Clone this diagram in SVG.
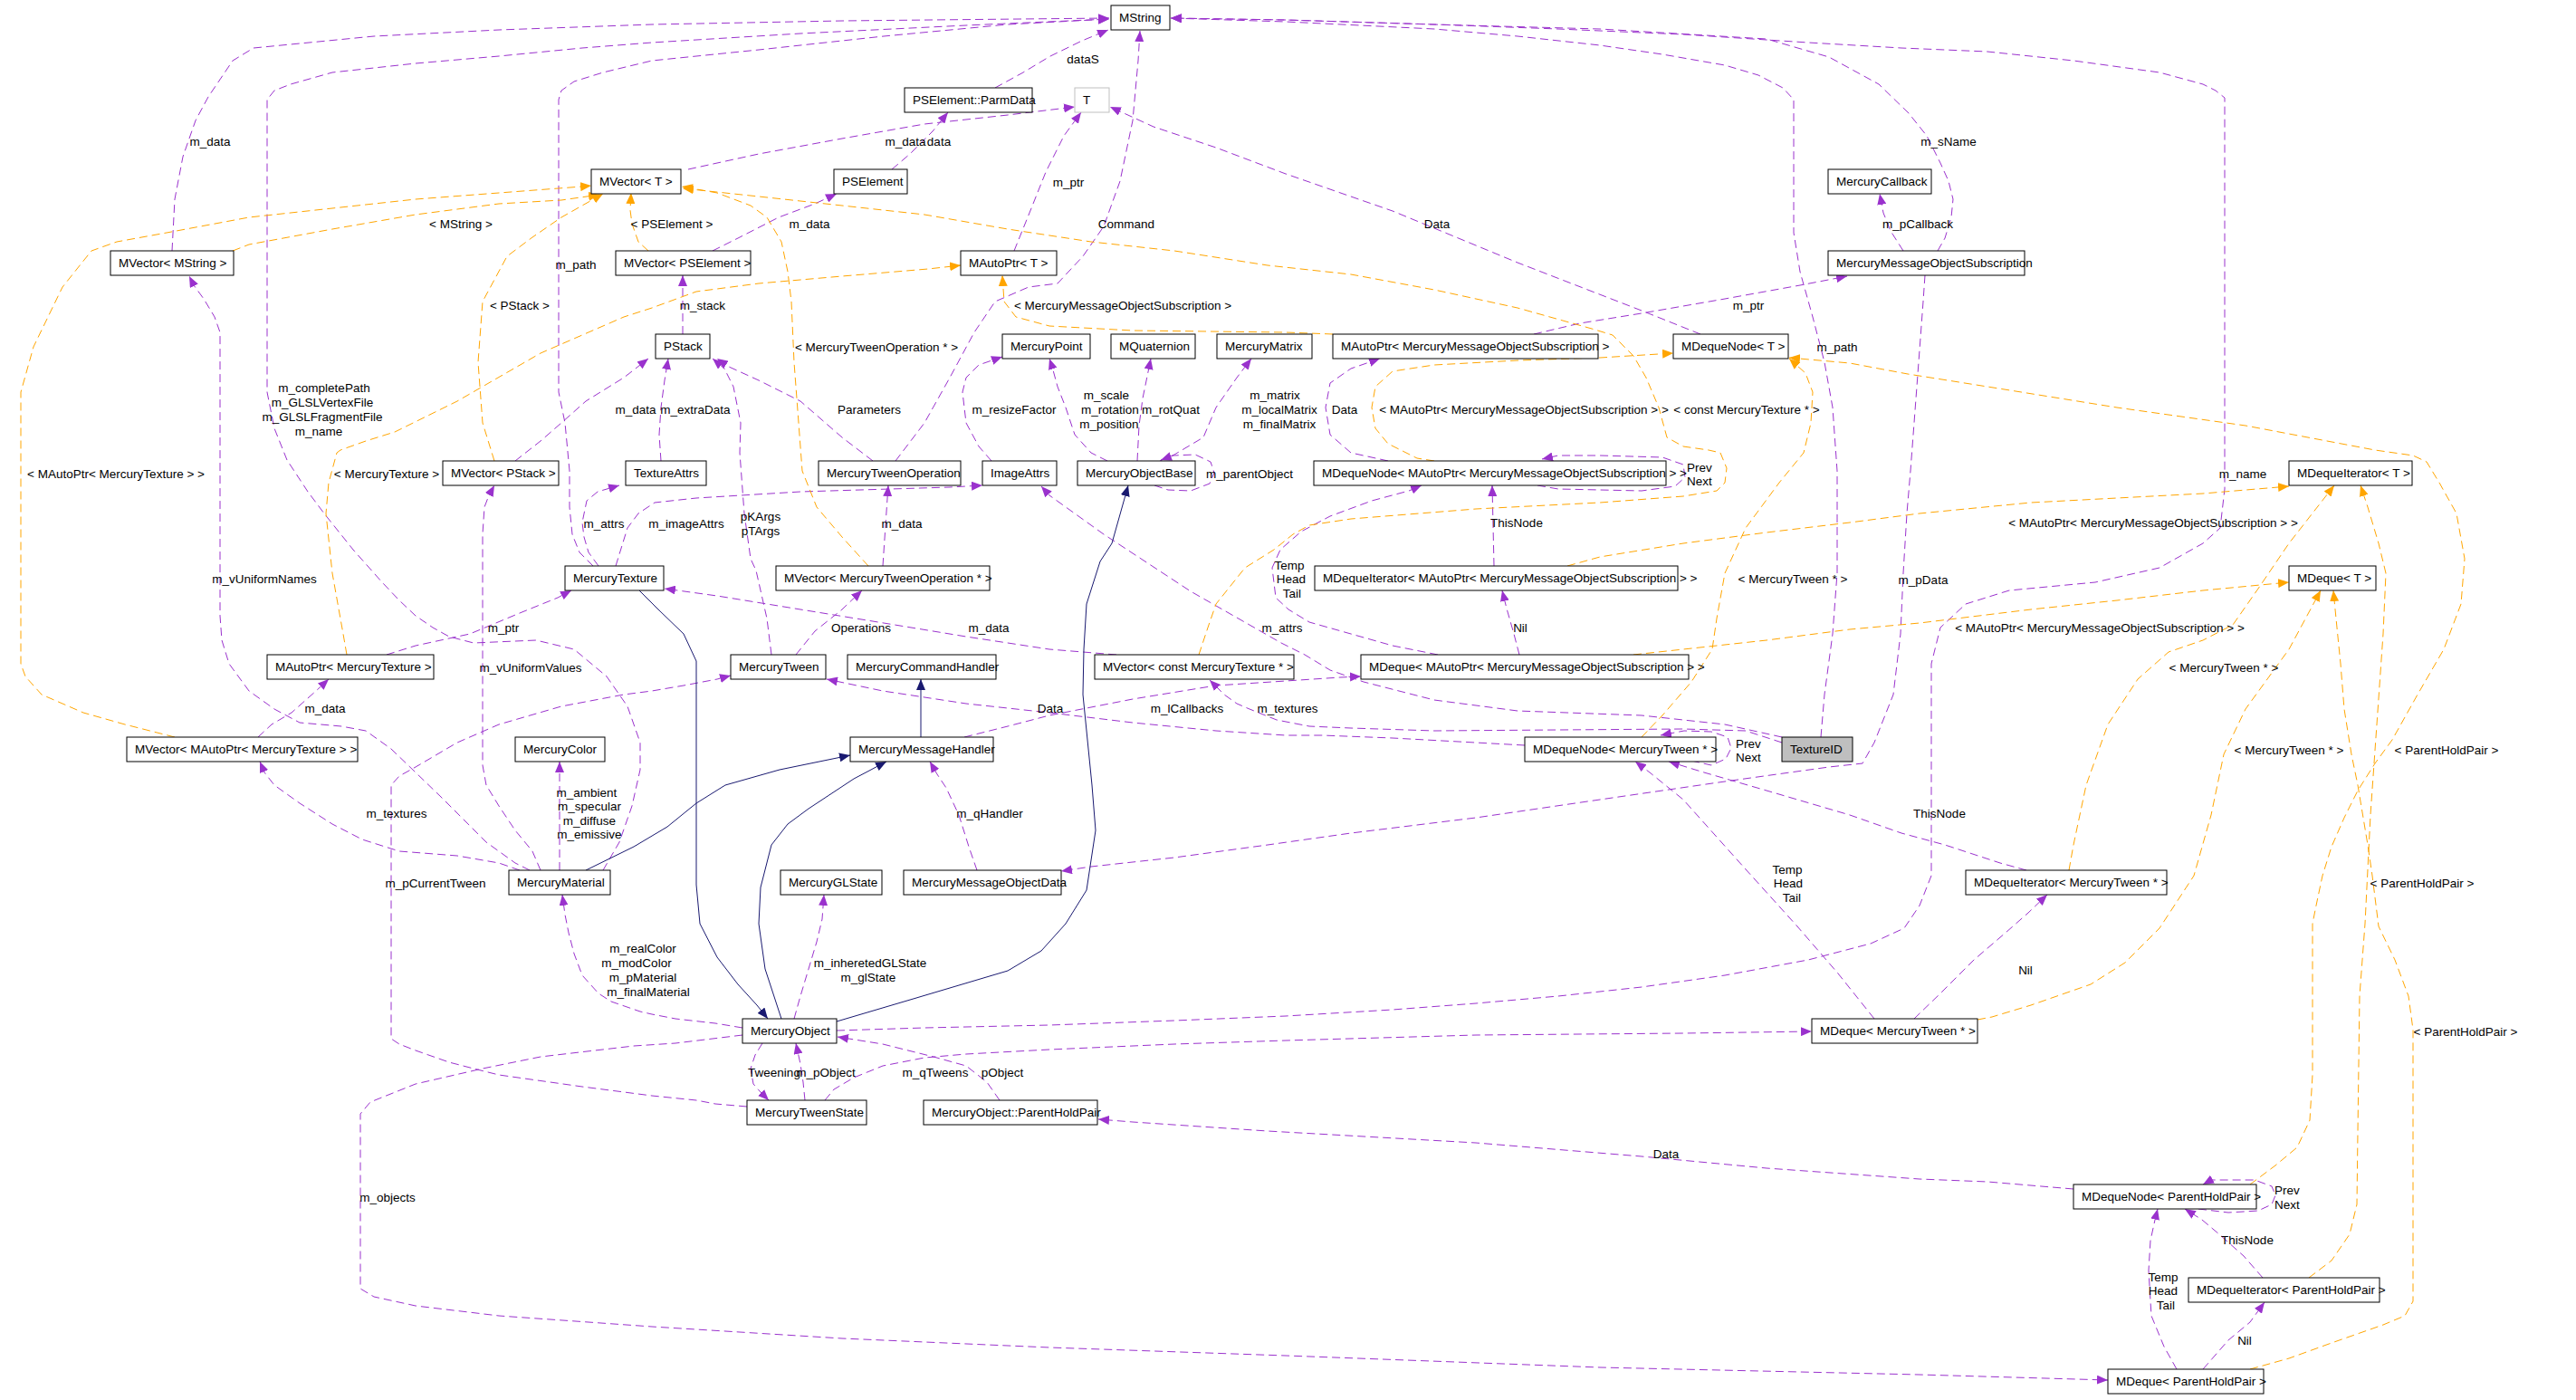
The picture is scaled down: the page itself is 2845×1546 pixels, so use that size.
<svg xmlns="http://www.w3.org/2000/svg" width="2845" height="1546" viewBox="0 0 2845 1546">
<style>
text{font-family:"Liberation Sans",Arial,sans-serif;font-size:13.5px;fill:#000}
.n rect{fill:#fff;stroke:#000;stroke-width:1}
.lb{text-anchor:middle}
.ep{fill:none;stroke:#9a32cd;stroke-width:1;stroke-dasharray:9,5;marker-end:url(#ap)}
.eo{fill:none;stroke:#ffa500;stroke-width:1;stroke-dasharray:9,5;marker-end:url(#ao)}
.en{fill:none;stroke:#191970;stroke-width:1;marker-end:url(#an)}
</style>
<defs>
<marker id="ap" markerUnits="userSpaceOnUse" markerWidth="12" markerHeight="10" refX="12" refY="5" orient="auto" viewBox="0 0 12 10"><path d="M0,0 L12,5 L0,10 z" fill="#9a32cd"/></marker>
<marker id="ao" markerUnits="userSpaceOnUse" markerWidth="12" markerHeight="10" refX="12" refY="5" orient="auto" viewBox="0 0 12 10"><path d="M0,0 L12,5 L0,10 z" fill="#ffa500"/></marker>
<marker id="an" markerUnits="userSpaceOnUse" markerWidth="12" markerHeight="10" refX="12" refY="5" orient="auto" viewBox="0 0 12 10"><path d="M0,0 L12,5 L0,10 z" fill="#191970"/></marker>
</defs>
<rect width="2845" height="1546" fill="#fff"/>
<g id="edges">
<!-- purple -->
<path class="ep" d="M190,277 L193,220 L202,173 L216,133 L230,107 L257,67 L280,53 L413,40 L551,33 L720,27 L930,23 L1225,20"/>
<path class="ep" d="M666,961 L684,930 L698,890 L707,850 L707,820 L693,780 L670,747 L634,717 L592,707 L523,710 L496,703 L478,693 L459,680 L441,663 L422,643 L390,607 L358,567 L340,543 L317,508 L303,473 L295,433 L295,110 L303,100 L321,93 L367,80 L459,70 L551,62 L643,53 L720,47 L884,37 L1067,28 L1225,21"/>
<path class="ep" d="M655,625 L640,610 L632,590 L629,560 L629,520 L624,467 L617,433 L617,110 L620,100 L634,90 L666,80 L720,67 L838,55 L976,40 L1113,27 L1225,21"/>
<path class="ep" d="M585,961 L569,953 L537,930 L510,903 L487,880 L459,853 L432,827 L404,807 L377,802 L331,798 L303,783 L275,763 L253,733 L245,707 L243,680 L243,367 L237,350 L225,330 L214,315 L209,305"/>
<path class="ep" d="M574,961 L551,953 L505,945 L441,940 L400,927 L367,910 L331,887 L303,867 L292,853 L287,841"/>
<path class="ep" d="M597,961 L588,940 L569,917 L551,890 L537,867 L533,845 L533,590 L535,560 L540,547 L546,536"/>
<path class="ep" d="M618,961 L618,841"/>
<path class="ep" d="M820,1135 L790,1130 L746,1125 L720,1120 L707,1117 L675,1106 L661,1097 L643,1077 L634,1053 L628,1030 L624,1010 L621,988"/>
<path class="ep" d="M825,1222 L790,1219 L769,1215 L720,1210 L643,1200 L551,1187 L523,1180 L496,1173 L459,1160 L441,1153 L432,1147 L432,867 L441,857 L459,847 L505,820 L551,800 L620,780 L689,767 L720,763 L755,757 L792,750 L807,746"/>
<path class="ep" d="M820,1143 L746,1152 L700,1155 L597,1167 L533,1180 L459,1197 L409,1217 L398,1230 L398,1423 L413,1432 L459,1442 L551,1453 L720,1465 L930,1478 L1159,1488 L1420,1497 L1767,1510 L2120,1518 L2328,1524"/>
<path class="ep" d="M842,1152 L834,1165 L829,1180 L832,1197 L840,1206 L849,1215"/>
<path class="ep" d="M889,1215 L887,1195 L884,1175 L879,1152"/>
<path class="ep" d="M1104,1215 L1090,1195 L1067,1177 L1031,1167 L975,1153 L925,1145"/>
<path class="ep" d="M911,1215 L921,1203 L943,1190 L975,1177 L1021,1168 L1067,1164 L1159,1159 L1297,1153 L1420,1149 L1630,1143 L1859,1141 L2001,1139"/>
<path class="ep" d="M877,1125 L884,1100 L893,1070 L902,1040 L908,1015 L910,988"/>
<path class="ep" d="M2290,1313 L2195,1305 L2120,1302 L1951,1290 L1813,1277 L1630,1262 L1400,1249 L1251,1239 L1213,1236"/>
<path class="ep" d="M2070,1125 L2030,1075 L1985,1023 L1928,960 L1859,883 L1822,853 L1806,841"/>
<path class="ep" d="M2114,1125 L2143,1097 L2180,1060 L2215,1030 L2240,1008 L2261,988"/>
<path class="ep" d="M2238,961 L2209,953 L2148,933 L2100,920 L2043,900 L1951,873 L1882,853 L1843,841"/>
<path class="ep" d="M1868,840 L1890,845 L1906,838 L1912,826 L1908,814 L1890,808 L1860,807 L1834,812"/>
<path class="ep" d="M1684,823 L1538,815 L1460,812 L1420,812 L1343,807 L1251,798 L1159,787 L1067,777 L975,763 L913,750"/>
<path class="ep" d="M1065,814 L1113,802 L1159,790 L1251,772 L1343,757 L1420,752 L1480,748 L1503,747"/>
<path class="ep" d="M1968,820 L1928,807 L1859,805 L1721,806 L1584,807 L1492,804 L1446,802 L1410,795 L1380,783 L1366,777 L1352,767 L1336,751"/>
<path class="ep" d="M1968,814 L1905,800 L1813,790 L1676,785 L1584,773 L1506,753 L1469,740 L1441,723 L1415,710 L1315,653 L1219,590 L1159,547 L1150,537"/>
<path class="ep" d="M2011,814 L2015,767 L2024,700 L2029,633 L2029,520 L2024,450 L2015,400 L2002,350 L1988,300 L1981,257 L1981,110 L1969,97 L1942,83 L1905,72 L1836,60 L1767,50 L1676,40 L1584,32 L1420,24 L1293,20"/>
<path class="ep" d="M924,1138 L1021,1135 L1159,1132 L1297,1127 L1420,1122 L1538,1115 L1630,1108 L1721,1100 L1813,1090 L1905,1077 L1997,1060 L2066,1042 L2103,1025 L2120,1000 L2133,967 L2133,733 L2143,693 L2171,667 L2219,652 L2314,643 L2385,627 L2433,600 L2452,583 L2457,540 L2457,108 L2447,100 L2433,93 L2385,80 L2290,67 L2195,57 L2100,53 L1997,47 L1859,38 L1721,32 L1584,27 L1420,22 L1293,20"/>
<path class="ep" d="M2140,277 L2148,263 L2155,240 L2157,220 L2152,200 L2143,180 L2128,150 L2108,125 L2075,93 L2020,63 L1951,43 L1767,32 L1584,27 L1420,22 L1293,20"/>
<path class="ep" d="M2102,277 L2088,255 L2080,235 L2076,214"/>
<path class="ep" d="M1694,369 L1745,357 L1813,346 L1905,330 L1988,315 L2040,305"/>
<path class="ep" d="M2126,304 L2124,333 L2119,400 L2114,467 L2110,520 L2106,567 L2102,633 L2099,700 L2091,767 L2070,820 L2057,843 L2020,847 L1905,863 L1767,883 L1630,903 L1492,920 L1400,933 L1297,947 L1205,957 L1172,962"/>
<path class="ep" d="M1079,961 L1070,935 L1059,900 L1045,870 L1035,855 L1027,841"/>
<path class="ep" d="M1099,97 L1130,80 L1160,62 L1195,45 L1224,33"/>
<path class="ep" d="M989,509 L1021,467 L1049,417 L1076,367 L1099,333 L1136,317 L1168,313 L1196,283 L1219,250 L1237,200 L1251,133 L1257,67 L1259,34"/>
<path class="ep" d="M1878,369 L1813,343 L1676,290 L1538,233 L1420,192 L1343,163 L1274,140 L1226,118"/>
<path class="ep" d="M1120,277 L1135,240 L1155,190 L1175,150 L1194,124"/>
<path class="ep" d="M760,187 L838,170 L930,153 L1021,137 L1113,127 L1187,118"/>
<path class="ep" d="M985,187 L1005,170 L1030,145 L1047,124"/>
<path class="ep" d="M787,277 L815,263 L860,240 L900,225 L924,214"/>
<path class="ep" d="M754,369 L754,304"/>
<path class="ep" d="M569,509 L597,487 L620,467 L647,443 L689,417 L716,396"/>
<path class="ep" d="M730,509 L728,480 L730,450 L734,420 L738,396"/>
<path class="ep" d="M852,723 L847,683 L835,630 L829,617 L822,567 L817,500 L818,467 L810,427 L800,407 L787,396"/>
<path class="ep" d="M964,509 L930,483 L884,443 L838,420 L805,405 L792,396"/>
<path class="ep" d="M975,625 L978,580 L981,536"/>
<path class="ep" d="M879,723 L900,697 L930,673 L952,652"/>
<path class="ep" d="M1233,723 L1159,717 L1067,703 L976,688 L884,673 L792,658 L734,650"/>
<path class="ep" d="M427,723 L459,713 L519,700 L574,677 L616,660 L631,652"/>
<path class="ep" d="M285,814 L300,800 L322,787 L349,763 L363,750"/>
<path class="ep" d="M661,625 L650,610 L645,593 L643,577 L648,553 L660,543 L684,536"/>
<path class="ep" d="M680,625 L693,583 L705,567 L723,555 L769,550 L884,543 L1049,538 L1085,536"/>
<path class="ep" d="M1095,509 L1081,493 L1067,467 L1063,433 L1067,417 L1081,403 L1107,394"/>
<path class="ep" d="M1223,509 L1205,500 L1187,480 L1177,450 L1168,427 L1162,405 L1159,396"/>
<path class="ep" d="M1256,509 L1258,470 L1262,440 L1271,396"/>
<path class="ep" d="M1281,509 L1297,502 L1329,483 L1343,450 L1366,417 L1382,396"/>
<path class="ep" d="M1275,536 L1290,541 L1315,542 L1336,534 L1341,522 L1337,510 L1320,502 L1296,503 L1282,508"/>
<path class="ep" d="M1533,509 L1492,500 L1469,480 L1464,450 L1469,423 L1492,407 L1524,396"/>
<path class="ep" d="M1698,536 L1721,540 L1813,542 L1850,537 L1861,527 L1859,513 L1836,505 L1767,503 L1721,503 L1703,507"/>
<path class="ep" d="M1650,625 L1649,580 L1648,536"/>
<path class="ep" d="M1678,723 L1672,700 L1664,672 L1659,652"/>
<path class="ep" d="M1588,723 L1538,713 L1492,700 L1446,687 L1423,673 L1409,660 L1405,627 L1414,607 L1437,587 L1469,570 L1515,553 L1556,542 L1570,536"/>
<path class="ep" d="M2499,1411 L2478,1387 L2451,1363 L2432,1347 L2413,1335"/>
<path class="ep" d="M2428,1335 L2461,1339 L2494,1337 L2509,1330 L2513,1320 L2509,1310 L2490,1303 L2442,1303 L2433,1308"/>
<path class="ep" d="M2404,1512 L2390,1487 L2376,1453 L2373,1403 L2375,1370 L2380,1347 L2383,1335"/>
<path class="ep" d="M2433,1512 L2461,1480 L2485,1460 L2501,1438"/>
<!-- orange -->
<path class="eo" d="M257,277 L275,270 L367,253 L459,237 L551,225 L620,221 L662,215"/>
<path class="eo" d="M193,814 L138,800 L92,787 L46,767 L28,747 L23,733 L23,433 L37,383 L69,317 L101,277 L129,267 L184,257 L275,240 L367,230 L459,220 L551,213 L643,206 L653,205"/>
<path class="eo" d="M546,509 L533,467 L528,400 L533,333 L560,283 L588,262 L620,240 L666,214"/>
<path class="eo" d="M716,277 L705,267 L698,247 L696,232 L697,213"/>
<path class="eo" d="M959,625 L930,593 L902,560 L886,520 L877,400 L874,333 L870,300 L863,267 L847,240 L829,227 L792,213 L753,206"/>
<path class="eo" d="M383,723 L379,700 L367,633 L360,567 L363,533 L372,500 L376,497 L404,487 L436,477 L505,443 L597,390 L689,350 L720,340 L769,322 L838,313 L930,305 L1025,297 L1061,293"/>
<path class="eo" d="M1472,369 L1420,367 L1251,365 L1159,360 L1122,350 L1109,333 L1107,304"/>
<path class="eo" d="M1324,723 L1334,693 L1343,667 L1375,627 L1407,607 L1428,590 L1446,580 L1492,573 L1630,562 L1767,555 L1859,548 L1896,542 L1905,533 L1907,517 L1900,500 L1887,497 L1859,493 L1841,483 L1832,450 L1818,417 L1804,393 L1781,370 L1758,363 L1676,340 L1584,320 L1492,303 L1400,293 L1297,277 L1205,267 L1113,253 L1021,237 L930,227 L838,217 L754,208"/>
<path class="eo" d="M1584,509 L1565,506 L1533,490 L1519,473 L1515,450 L1519,427 L1538,410 L1584,403 L1676,398 L1767,395 L1848,390"/>
<path class="eo" d="M1813,814 L1836,790 L1868,753 L1891,717 L1896,683 L1905,633 L1928,583 L1965,533 L1992,500 L2000,467 L2002,433 L1994,412 L1976,396"/>
<path class="eo" d="M2485,1308 L2513,1287 L2537,1267 L2551,1237 L2554,1187 L2554,1020 L2558,1000 L2565,967 L2575,935 L2589,903 L2604,873 L2623,843 L2642,817 L2670,767 L2699,717 L2718,667 L2722,617 L2713,567 L2694,533 L2680,510 L2665,503 L2623,497 L2480,470 L2338,450 L2195,427 L2107,413 L2043,401 L1976,395"/>
<path class="eo" d="M2550,1411 L2575,1392 L2595,1363 L2603,1330 L2604,1250 L2606,1100 L2612,1020 L2618,900 L2625,800 L2632,700 L2635,633 L2627,600 L2615,560 L2607,536"/>
<path class="eo" d="M2485,1512 L2528,1500 L2575,1483 L2632,1463 L2656,1453 L2665,1437 L2665,1137 L2660,1100 L2645,1060 L2627,1023 L2620,967 L2615,933 L2604,867 L2597,833 L2589,783 L2585,733 L2580,683 L2577,652"/>
<path class="eo" d="M2184,1126 L2200,1123 L2243,1110 L2309,1087 L2347,1063 L2385,1025 L2423,967 L2442,900 L2456,833 L2480,783 L2528,717 L2563,652"/>
<path class="eo" d="M2285,961 L2290,933 L2304,867 L2328,800 L2361,750 L2395,720 L2433,707 L2466,690 L2494,650 L2528,600 L2578,536"/>
<path class="eo" d="M1731,625 L1767,615 L1859,600 L1951,588 L2043,577 L2120,567 L2243,555 L2338,550 L2433,545 L2528,537"/>
<path class="eo" d="M1804,723 L1859,717 L1951,707 L2043,695 L2120,688 L2243,673 L2338,663 L2433,652 L2528,643"/>
<!-- navy -->
<path class="en" d="M705,651 L727,673 L755,700 L769,730 L769,977 L773,1020 L792,1057 L815,1087 L836,1110 L848,1125"/>
<path class="en" d="M647,961 L700,935 L737,913 L769,887 L801,867 L861,850 L939,834"/>
<path class="en" d="M863,1125 L845,1070 L838,1020 L840,980 L852,933 L870,910 L893,893 L943,860 L979,841"/>
<path class="en" d="M924,1128 L1012,1102 L1113,1072 L1150,1050 L1177,1020 L1200,983 L1210,917 L1206,867 L1196,767 L1197,717 L1200,667 L1215,620 L1228,600 L1246,536"/>
<path class="en" d="M1017,814 L1017,750"/>
</g>
<g id="labels">
<text class="lb" x="232" y="161">m_data</text>
<text class="lb" x="358" y="433">m_completePath</text>
<text class="lb" x="356" y="449">m_GLSLVertexFile</text>
<text class="lb" x="356" y="465">m_GLSLFragmentFile</text>
<text class="lb" x="352" y="481">m_name</text>
<text class="lb" x="636" y="297">m_path</text>
<text class="lb" x="292" y="644">m_vUniformNames</text>
<text class="lb" x="438" y="903">m_textures</text>
<text class="lb" x="586" y="742">m_vUniformValues</text>
<text class="lb" x="648" y="880">m_ambient</text>
<text class="lb" x="651" y="895">m_specular</text>
<text class="lb" x="651" y="911">m_diffuse</text>
<text class="lb" x="651" y="926">m_emissive</text>
<text class="lb" x="710" y="1052">m_realColor</text>
<text class="lb" x="703" y="1068">m_modColor</text>
<text class="lb" x="710" y="1084">m_pMaterial</text>
<text class="lb" x="716" y="1100">m_finalMaterial</text>
<text class="lb" x="481" y="980">m_pCurrentTween</text>
<text class="lb" x="428" y="1327">m_objects</text>
<text class="lb" x="855" y="1189">Tweening</text>
<text class="lb" x="912" y="1189">m_pObject</text>
<text class="lb" x="1107" y="1189">pObject</text>
<text class="lb" x="1033" y="1189">m_qTweens</text>
<text class="lb" x="961" y="1068">m_inheretedGLState</text>
<text class="lb" x="959" y="1084">m_glState</text>
<text class="lb" x="1840" y="1279">Data</text>
<text class="lb" x="1974" y="965">Temp</text>
<text class="lb" x="1975" y="980">Head</text>
<text class="lb" x="1979" y="996">Tail</text>
<text class="lb" x="2237" y="1076">Nil</text>
<text class="lb" x="2142" y="903">ThisNode</text>
<text class="lb" x="1931" y="826">Prev</text>
<text class="lb" x="1931" y="841">Next</text>
<text class="lb" x="1160" y="787">Data</text>
<text class="lb" x="1311" y="787">m_lCallbacks</text>
<text class="lb" x="1422" y="787">m_textures</text>
<text class="lb" x="1416" y="698">m_attrs</text>
<text class="lb" x="2029" y="388">m_path</text>
<text class="lb" x="2477" y="528">m_name</text>
<text class="lb" x="2152" y="161">m_sName</text>
<text class="lb" x="2118" y="252">m_pCallback</text>
<text class="lb" x="1931" y="342">m_ptr</text>
<text class="lb" x="2124" y="645">m_pData</text>
<text class="lb" x="1093" y="903">m_qHandler</text>
<text class="lb" x="1196" y="70">dataS</text>
<text class="lb" x="1244" y="252">Command</text>
<text class="lb" x="1587" y="252">Data</text>
<text class="lb" x="1180" y="206">m_ptr</text>
<text class="lb" x="1000" y="161">m_data</text>
<text class="lb" x="1037" y="161">data</text>
<text class="lb" x="894" y="252">m_data</text>
<text class="lb" x="776" y="342">m_stack</text>
<text class="lb" x="702" y="457">m_data</text>
<text class="lb" x="768" y="457">m_extraData</text>
<text class="lb" x="840" y="575">pKArgs</text>
<text class="lb" x="840" y="591">pTArgs</text>
<text class="lb" x="960" y="457">Parameters</text>
<text class="lb" x="996" y="583">m_data</text>
<text class="lb" x="951" y="698">Operations</text>
<text class="lb" x="1092" y="698">m_data</text>
<text class="lb" x="556" y="698">m_ptr</text>
<text class="lb" x="359" y="787">m_data</text>
<text class="lb" x="667" y="583">m_attrs</text>
<text class="lb" x="758" y="583">m_imageAttrs</text>
<text class="lb" x="1120" y="457">m_resizeFactor</text>
<text class="lb" x="1222" y="441">m_scale</text>
<text class="lb" x="1226" y="457">m_rotation</text>
<text class="lb" x="1225" y="473">m_position</text>
<text class="lb" x="1293" y="457">m_rotQuat</text>
<text class="lb" x="1408" y="441">m_matrix</text>
<text class="lb" x="1413" y="457">m_localMatrix</text>
<text class="lb" x="1413" y="473">m_finalMatrix</text>
<text class="lb" x="1380" y="528">m_parentObject</text>
<text class="lb" x="1485" y="457">Data</text>
<text class="lb" x="1877" y="521">Prev</text>
<text class="lb" x="1877" y="536">Next</text>
<text class="lb" x="1675" y="582">ThisNode</text>
<text class="lb" x="1679" y="698">Nil</text>
<text class="lb" x="1424" y="629">Temp</text>
<text class="lb" x="1426" y="644">Head</text>
<text class="lb" x="1427" y="660">Tail</text>
<text class="lb" x="2482" y="1374">ThisNode</text>
<text class="lb" x="2526" y="1319">Prev</text>
<text class="lb" x="2526" y="1335">Next</text>
<text class="lb" x="2389" y="1415">Temp</text>
<text class="lb" x="2389" y="1430">Head</text>
<text class="lb" x="2392" y="1446">Tail</text>
<text class="lb" x="2479" y="1485">Nil</text>
<text class="lb" x="509" y="252">&lt; MString &gt;</text>
<text class="lb" x="128" y="528">&lt; MAutoPtr&lt; MercuryTexture &gt; &gt;</text>
<text class="lb" x="574" y="342">&lt; PStack &gt;</text>
<text class="lb" x="742" y="252">&lt; PSElement &gt;</text>
<text class="lb" x="968" y="388">&lt; MercuryTweenOperation * &gt;</text>
<text class="lb" x="427" y="528">&lt; MercuryTexture &gt;</text>
<text class="lb" x="1240" y="342">&lt; MercuryMessageObjectSubscription &gt;</text>
<text class="lb" x="1929" y="457">&lt; const MercuryTexture * &gt;</text>
<text class="lb" x="1683" y="457">&lt; MAutoPtr&lt; MercuryMessageObjectSubscription &gt; &gt;</text>
<text class="lb" x="1980" y="644">&lt; MercuryTween * &gt;</text>
<text class="lb" x="2702" y="833">&lt; ParentHoldPair &gt;</text>
<text class="lb" x="2675" y="980">&lt; ParentHoldPair &gt;</text>
<text class="lb" x="2723" y="1144">&lt; ParentHoldPair &gt;</text>
<text class="lb" x="2528" y="833">&lt; MercuryTween * &gt;</text>
<text class="lb" x="2456" y="742">&lt; MercuryTween * &gt;</text>
<text class="lb" x="2378" y="582">&lt; MAutoPtr&lt; MercuryMessageObjectSubscription &gt; &gt;</text>
<text class="lb" x="2319" y="698">&lt; MAutoPtr&lt; MercuryMessageObjectSubscription &gt; &gt;</text>
</g>
<g id="n_MString" class="n"><rect x="1227" y="6" width="65" height="27"/><text x="1236" y="24">MString</text></g>
<g id="n_ParmData" class="n"><rect x="999" y="97" width="141" height="27"/><text x="1008" y="115">PSElement::ParmData</text></g>
<g id="n_T" class="n"><rect x="1187" y="97" width="38" height="27" style="stroke:#bfbfbf"/><text x="1196" y="115">T</text></g>
<g id="n_MVectorT" class="n"><rect x="653" y="187" width="99" height="27"/><text x="662" y="205">MVector&lt; T &gt;</text></g>
<g id="n_PSElement" class="n"><rect x="921" y="187" width="81" height="27"/><text x="930" y="205">PSElement</text></g>
<g id="n_MercuryCallback" class="n"><rect x="2019" y="187" width="114" height="27"/><text x="2028" y="205">MercuryCallback</text></g>
<g id="n_MVectorMString" class="n"><rect x="122" y="277" width="136" height="27"/><text x="131" y="295">MVector&lt; MString &gt;</text></g>
<g id="n_MVectorPSElement" class="n"><rect x="680" y="277" width="149" height="27"/><text x="689" y="295">MVector&lt; PSElement &gt;</text></g>
<g id="n_MAutoPtrT" class="n"><rect x="1061" y="277" width="106" height="27"/><text x="1070" y="295">MAutoPtr&lt; T &gt;</text></g>
<g id="n_MMOSubscription" class="n"><rect x="2019" y="277" width="217" height="27"/><text x="2028" y="295">MercuryMessageObjectSubscription</text></g>
<g id="n_PStack" class="n"><rect x="724" y="369" width="60" height="27"/><text x="733" y="387">PStack</text></g>
<g id="n_MercuryPoint" class="n"><rect x="1107" y="369" width="97" height="27"/><text x="1116" y="387">MercuryPoint</text></g>
<g id="n_MQuaternion" class="n"><rect x="1227" y="369" width="93" height="27"/><text x="1236" y="387">MQuaternion</text></g>
<g id="n_MercuryMatrix" class="n"><rect x="1344" y="369" width="105" height="27"/><text x="1353" y="387">MercuryMatrix</text></g>
<g id="n_MAutoPtrMMOS" class="n"><rect x="1472" y="369" width="293" height="27"/><text x="1481" y="387">MAutoPtr&lt; MercuryMessageObjectSubscription &gt;</text></g>
<g id="n_MDequeNodeT" class="n"><rect x="1848" y="369" width="127" height="27"/><text x="1857" y="387">MDequeNode&lt; T &gt;</text></g>
<g id="n_MVectorPStack" class="n"><rect x="489" y="509" width="128" height="27"/><text x="498" y="527">MVector&lt; PStack &gt;</text></g>
<g id="n_TextureAttrs" class="n"><rect x="691" y="509" width="89" height="27"/><text x="700" y="527">TextureAttrs</text></g>
<g id="n_MercuryTweenOperation" class="n"><rect x="904" y="509" width="157" height="27"/><text x="913" y="527">MercuryTweenOperation</text></g>
<g id="n_ImageAttrs" class="n"><rect x="1085" y="509" width="82" height="27"/><text x="1094" y="527">ImageAttrs</text></g>
<g id="n_MercuryObjectBase" class="n"><rect x="1190" y="509" width="130" height="27"/><text x="1199" y="527">MercuryObjectBase</text></g>
<g id="n_MDequeNodeMAutoPtr" class="n"><rect x="1451" y="509" width="389" height="27"/><text x="1460" y="527">MDequeNode&lt; MAutoPtr&lt; MercuryMessageObjectSubscription &gt; &gt;</text></g>
<g id="n_MDequeIteratorT" class="n"><rect x="2528" y="509" width="136" height="27"/><text x="2537" y="527">MDequeIterator&lt; T &gt;</text></g>
<g id="n_MercuryTexture" class="n"><rect x="624" y="625" width="109" height="27"/><text x="633" y="643">MercuryTexture</text></g>
<g id="n_MVectorMTO" class="n"><rect x="857" y="625" width="236" height="27"/><text x="866" y="643">MVector&lt; MercuryTweenOperation * &gt;</text></g>
<g id="n_MDequeIteratorMAutoPtr" class="n"><rect x="1452" y="625" width="401" height="27"/><text x="1461" y="643">MDequeIterator&lt; MAutoPtr&lt; MercuryMessageObjectSubscription &gt; &gt;</text></g>
<g id="n_MDequeT" class="n"><rect x="2528" y="625" width="96" height="27"/><text x="2537" y="643">MDeque&lt; T &gt;</text></g>
<g id="n_MAutoPtrMercuryTexture" class="n"><rect x="295" y="723" width="184" height="27"/><text x="304" y="741">MAutoPtr&lt; MercuryTexture &gt;</text></g>
<g id="n_MercuryTween" class="n"><rect x="807" y="723" width="105" height="27"/><text x="816" y="741">MercuryTween</text></g>
<g id="n_MercuryCommandHandler" class="n"><rect x="936" y="723" width="164" height="27"/><text x="945" y="741">MercuryCommandHandler</text></g>
<g id="n_MVectorConstMT" class="n"><rect x="1209" y="723" width="220" height="27"/><text x="1218" y="741">MVector&lt; const MercuryTexture * &gt;</text></g>
<g id="n_MDequeMAutoPtr" class="n"><rect x="1503" y="723" width="362" height="27"/><text x="1512" y="741">MDeque&lt; MAutoPtr&lt; MercuryMessageObjectSubscription &gt; &gt;</text></g>
<g id="n_MVectorMAutoPtrMT" class="n"><rect x="140" y="814" width="255" height="27"/><text x="149" y="832">MVector&lt; MAutoPtr&lt; MercuryTexture &gt; &gt;</text></g>
<g id="n_MercuryColor" class="n"><rect x="569" y="814" width="99" height="27"/><text x="578" y="832">MercuryColor</text></g>
<g id="n_MercuryMessageHandler" class="n"><rect x="939" y="814" width="158" height="27"/><text x="948" y="832">MercuryMessageHandler</text></g>
<g id="n_MDequeNodeMT" class="n"><rect x="1684" y="814" width="211" height="27"/><text x="1693" y="832">MDequeNode&lt; MercuryTween * &gt;</text></g>
<g id="n_TextureID" class="n"><rect x="1968" y="814" width="78" height="27" style="fill:#bfbfbf"/><text x="1977" y="832">TextureID</text></g>
<g id="n_MercuryMaterial" class="n"><rect x="562" y="961" width="112" height="27"/><text x="571" y="979">MercuryMaterial</text></g>
<g id="n_MercuryGLState" class="n"><rect x="862" y="961" width="112" height="27"/><text x="871" y="979">MercuryGLState</text></g>
<g id="n_MercuryMessageObjectData" class="n"><rect x="998" y="961" width="174" height="27"/><text x="1007" y="979">MercuryMessageObjectData</text></g>
<g id="n_MDequeIteratorMT" class="n"><rect x="2171" y="961" width="222" height="27"/><text x="2180" y="979">MDequeIterator&lt; MercuryTween * &gt;</text></g>
<g id="n_MercuryObject" class="n"><rect x="820" y="1125" width="104" height="27"/><text x="829" y="1143">MercuryObject</text></g>
<g id="n_MDequeMT" class="n"><rect x="2001" y="1125" width="183" height="27"/><text x="2010" y="1143">MDeque&lt; MercuryTween * &gt;</text></g>
<g id="n_MercuryTweenState" class="n"><rect x="825" y="1215" width="132" height="27"/><text x="834" y="1233">MercuryTweenState</text></g>
<g id="n_ParentHoldPair" class="n"><rect x="1020" y="1215" width="192" height="27"/><text x="1029" y="1233">MercuryObject::ParentHoldPair</text></g>
<g id="n_MDequeNodePHP" class="n"><rect x="2290" y="1308" width="202" height="27"/><text x="2299" y="1326">MDequeNode&lt; ParentHoldPair &gt;</text></g>
<g id="n_MDequeIteratorPHP" class="n"><rect x="2417" y="1411" width="211" height="27"/><text x="2426" y="1429">MDequeIterator&lt; ParentHoldPair &gt;</text></g>
<g id="n_MDequePHP" class="n"><rect x="2328" y="1512" width="172" height="27"/><text x="2337" y="1530">MDeque&lt; ParentHoldPair &gt;</text></g>
</svg>
